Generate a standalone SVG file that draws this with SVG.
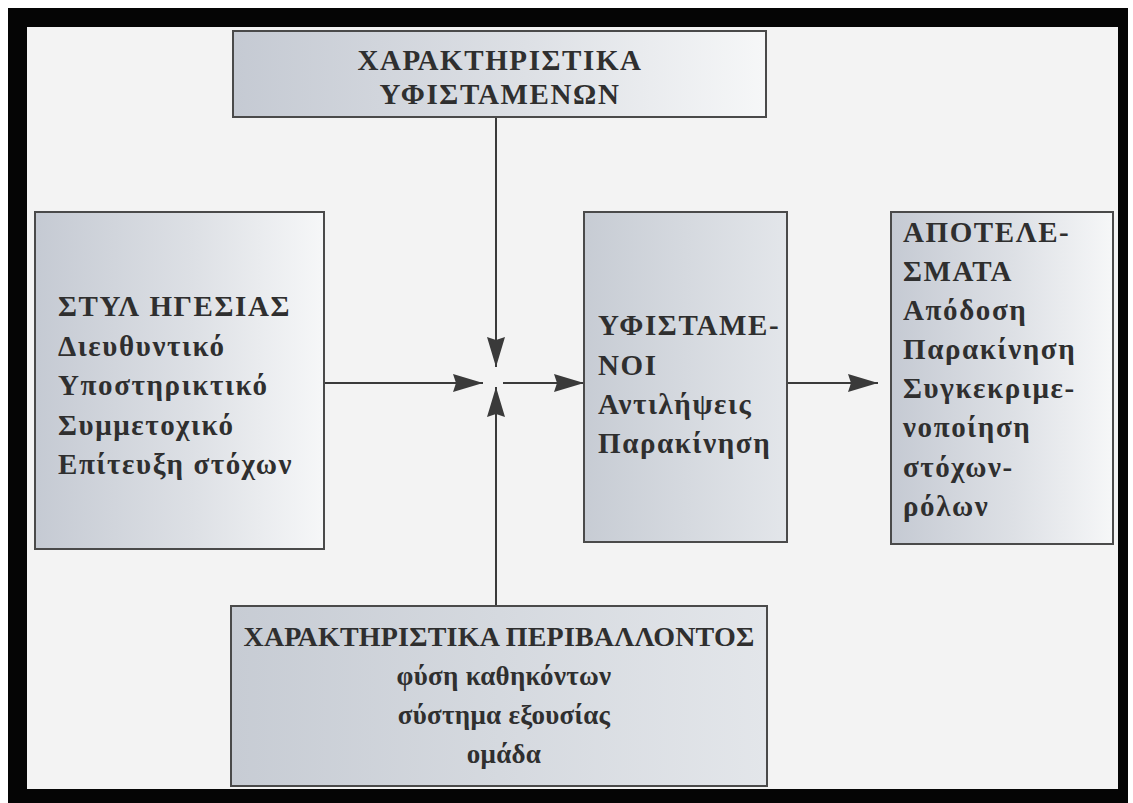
<svg xmlns="http://www.w3.org/2000/svg" width="1133" height="803" viewBox="0 0 1133 803">
<style>
.box{stroke:#4a4a4a;stroke-width:2}
.t{font-family:"Liberation Serif","Times New Roman",serif;font-weight:bold;font-size:29px;fill:#2f2f2f;letter-spacing:1.6px}
.b{font-size:28px;letter-spacing:0.2px}
.s{font-size:27px;letter-spacing:0.3px}
.c{text-anchor:middle}
.ln{stroke:#3a3a3a;stroke-width:2;fill:none;marker-end:url(#ah)}
</style>
<defs>
<linearGradient id="g1" x1="0" y1="0" x2="1" y2="0">
<stop offset="0" stop-color="#c5cad3"/><stop offset="0.55" stop-color="#dde0e5"/><stop offset="1" stop-color="#f6f7f8"/>
</linearGradient>
<linearGradient id="g2" x1="0" y1="0" x2="1" y2="0">
<stop offset="0" stop-color="#c7ccd4"/><stop offset="1" stop-color="#e3e6ea"/>
</linearGradient>
<marker id="ah" markerUnits="userSpaceOnUse" markerWidth="32" markerHeight="20" refX="30" refY="9" orient="auto">
<path d="M0,0 L30,9 L0,18 L3,9 z" fill="#3a3a3a"/>
</marker>
</defs>
<rect x="0" y="0" width="1133" height="803" fill="#ffffff"/>
<rect x="8" y="8" width="1120" height="795" fill="#050505"/>
<rect x="27" y="27" width="1091" height="762" fill="#f3f3f3"/>

<g id="connectors">
<line class="ln" x1="496" y1="117" x2="496" y2="367"/>
<line class="ln" x1="496" y1="606" x2="496" y2="387"/>
<line class="ln" x1="324" y1="383" x2="483" y2="383"/>
<line class="ln" x1="503" y1="383" x2="584" y2="383"/>
<line class="ln" x1="787" y1="383" x2="878" y2="383"/>
</g>

<g id="top">
<rect class="box" x="233" y="31" width="533" height="86" fill="url(#g1)"/>
<text class="t c" x="500" y="70">ΧΑΡΑΚΤΗΡΙΣΤΙΚΑ</text>
<text class="t c" x="500" y="104">ΥΦΙΣΤΑΜΕΝΩΝ</text>
</g>

<g id="left">
<rect class="box" x="35" y="212" width="289" height="337" fill="url(#g1)"/>
<text class="t" x="58" y="316">ΣΤΥΛ ΗΓΕΣΙΑΣ</text>
<text class="t" x="58" y="356">Διευθυντικό</text>
<text class="t" x="58" y="395">Υποστηρικτικό</text>
<text class="t" x="58" y="435">Συμμετοχικό</text>
<text class="t" x="58" y="474">Επίτευξη στόχων</text>
</g>

<g id="middle">
<rect class="box" x="584" y="212" width="203" height="330" fill="url(#g2)"/>
<text class="t" x="598" y="335">ΥΦΙΣΤΑΜΕ-</text>
<text class="t" x="598" y="375">ΝΟΙ</text>
<text class="t" x="598" y="414">Αντιλήψεις</text>
<text class="t" x="598" y="453">Παρακίνηση</text>
</g>

<g id="right">
<rect class="box" x="891" y="212" width="222" height="332" fill="url(#g1)"/>
<text class="t" x="903" y="242">ΑΠΟΤΕΛΕ-</text>
<text class="t" x="903" y="281">ΣΜΑΤΑ</text>
<text class="t" x="903" y="320">Απόδοση</text>
<text class="t" x="903" y="359">Παρακίνηση</text>
<text class="t" x="903" y="398">Συγκεκριμε-</text>
<text class="t" x="903" y="437">νοποίηση</text>
<text class="t" x="903" y="477">στόχων-</text>
<text class="t" x="903" y="516">ρόλων</text>
</g>

<g id="bottom">
<rect class="box" x="231" y="606" width="536" height="180" fill="url(#g2)"/>
<text class="t b c" x="499" y="646">ΧΑΡΑΚΤΗΡΙΣΤΙΚΑ ΠΕΡΙΒΑΛΛΟΝΤΟΣ</text>
<text class="t s c" x="504" y="685">φύση καθηκόντων</text>
<text class="t s c" x="504" y="724">σύστημα εξουσίας</text>
<text class="t s c" x="504" y="763">ομάδα</text>
</g>
</svg>
